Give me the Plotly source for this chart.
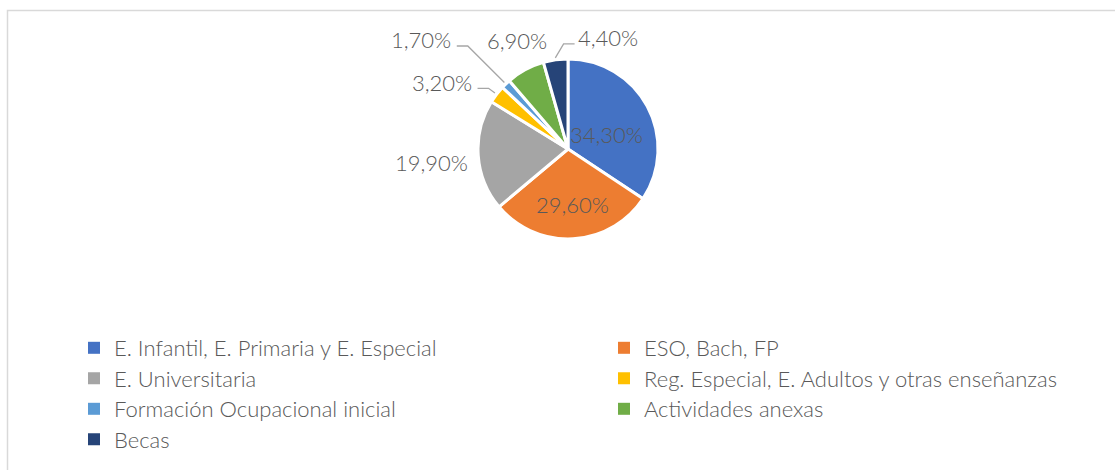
import math
import plotly.graph_objects as go

# ---- data ----
labels = [
    "E. Infantil, E. Primaria y E. Especial",
    "ESO, Bach, FP",
    "E. Universitaria",
    "Reg. Especial, E. Adultos y otras enseñanzas",
    "Formación Ocupacional inicial",
    "Actividades anexas",
    "Becas",
]
values = [34.3, 29.6, 19.9, 3.2, 1.7, 6.9, 4.4]
colors = ["#4472C4", "#ED7D31", "#A5A5A5", "#FFC000", "#5B9BD5", "#70AD47", "#264478"]

# ---- styling ----
W, H = 1115, 470
FONT = "Lato"
FS = 22
TXT = "#595959"
LINE_COL = "#A6A6A6"
CX, CY, R = 568, 149, 90  # pie centre / radius in px

# label offsets (px) from the slice's mid-edge point: (dx, dy)
label_offsets = [(-41, 28), (-1, -34), (-47, 7), (-55, -12), (-85, -44), (-8, -29), (52, -22)]
# leader lines: (x offset of horizontal segment start from label centre, segment direction)
leaders = {3: (36, 1), 4: (36, 1), 6: (-33, -1)}
SEG, LINE_DY, GAP = 11, 6, 2


def to_paper(x, y):
    return x / W, 1 - y / H


fig = go.Figure()
fig.add_trace(go.Pie(
    labels=labels, values=values, sort=False, direction="clockwise", rotation=0,
    marker=dict(colors=colors, line=dict(color="white", width=3)),
    textinfo="none", showlegend=False, hoverinfo="label+value",
    domain=dict(x=[(CX - R) / W, (CX + R) / W], y=[1 - (CY + R) / H, 1 - (CY - R) / H]),
))

# legend layout: two columns, each entry its own legend for exact row spacing
COL_X = [74, 604]
ROW0, ROW_STEP = 348, 30.5
legend_layouts = {}
for k, (lab, col) in enumerate(zip(labels, colors)):
    key = "legend" if k == 0 else f"legend{k + 1}"
    fig.add_trace(go.Scatter(x=[None], y=[None], mode="markers", name=lab,
                             legend=key,
                             marker=dict(symbol="square", size=8, color=col)))
    row, c = divmod(k, 2)
    legend_layouts[key] = dict(
        x=COL_X[c] / W, y=1 - (ROW0 + row * ROW_STEP) / H,
        xanchor="left", yanchor="middle", orientation="v",
        font=dict(family=FONT, size=FS, color=TXT, weight=300),
        bgcolor="rgba(0,0,0,0)", itemsizing="constant",
    )

# data labels positioned from slice angles
total = sum(values)
cum = 0
annotations = []
shapes = [dict(type="rect", xref="paper", yref="paper",
               x0=7.5 / W, x1=1.02, y0=-0.05, y1=1 - 10.5 / H,
               line=dict(color="#D9D9D9", width=1.5), layer="below")]
for i, v in enumerate(values):
    start = cum
    cum += v
    mid = (start + v / 2) / total * 2 * math.pi
    px = CX + R * math.sin(mid)
    py = CY - R * math.cos(mid)
    dx, dy = label_offsets[i]
    annotations.append(dict(
        x=px / W, y=1 - py / H, xref="paper", yref="paper",
        text=f"{v:.2f}%".replace(".", ","),
        showarrow=True, ax=dx, ay=dy, arrowhead=0, arrowwidth=0.1,
        arrowcolor="rgba(0,0,0,0)",
        font=dict(family=FONT, size=FS, color=TXT, weight=300),
    ))
    if i in leaders:
        off, d = leaders[i]
        lx, ly = px + dx, py + dy
        x1, y1 = lx + off, ly + LINE_DY
        x2 = x1 + d * SEG
        ex = CX + (R + GAP) * math.sin(mid)
        ey = CY - (R + GAP) * math.cos(mid)
        pts = [to_paper(x1, y1), to_paper(x2, y1), to_paper(ex, ey)]
        path = "M{:.5f},{:.5f} L{:.5f},{:.5f} L{:.5f},{:.5f}".format(*[c for p in pts for c in p])
        shapes.append(dict(type="path", xref="paper", yref="paper", path=path,
                           line=dict(color=LINE_COL, width=1.3)))

fig.update_layout(
    width=W, height=H,
    margin=dict(l=0, r=0, t=0, b=0, autoexpand=False),
    paper_bgcolor="white", plot_bgcolor="white",
    xaxis=dict(visible=False), yaxis=dict(visible=False),
    annotations=annotations,
    shapes=shapes,
    **legend_layouts,
)

fig.write_html("out.html", config={"displayModeBar": False},
               post_script="document.body.style.margin='0';")
